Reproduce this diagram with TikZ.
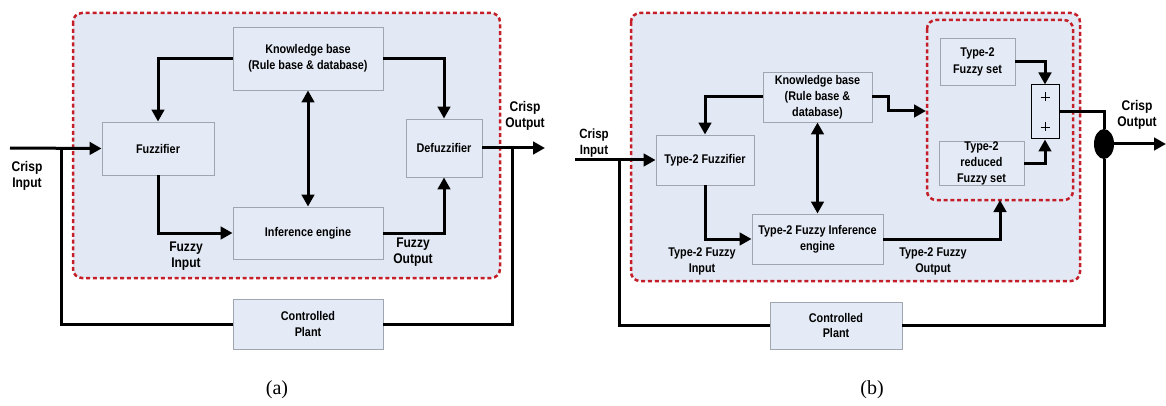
\documentclass[tikz,border=0pt]{standalone}
\usepackage{fontspec}
\setmainfont[FakeStretch=0.86]{Liberation Sans}
\newfontfamily\capfont{Liberation Serif}
\usetikzlibrary{arrows.meta,shapes.geometric}
\definecolor{regionfill}{RGB}{227,233,244}
\definecolor{boxfill}{RGB}{229,235,246}
\definecolor{boxgray}{RGB}{160,166,176}
\definecolor{dashred}{RGB}{196,30,40}
\begin{document}
\begin{tikzpicture}[x=1pt,y=-1pt,
  blk/.style={draw=boxgray, fill=boxfill, line width=0.9pt, align=center,
    font=\fontsize{12.6}{15.8}\selectfont\bfseries, inner sep=0pt},
  lbl/.style={align=center, font=\fontsize{14}{16.5}\selectfont\bfseries, inner sep=0pt},
  lblb/.style={align=center, font=\fontsize{12.6}{16}\selectfont\bfseries, inner sep=0pt},
  region/.style={draw=dashred, fill=regionfill, line width=2.5pt, dash pattern=on 4pt off 2.8pt, rounded corners=9pt},
  wire/.style={line width=3pt, black},
  arr/.style={wire, -{Triangle[length=12pt,width=12.5pt]}},
  darr/.style={wire, {Triangle[length=12pt,width=12.5pt]}-{Triangle[length=12pt,width=12.5pt]}},
  captxt/.style={font=\capfont\fontsize{20}{24}\selectfont, inner sep=0pt}
]
\useasboundingbox (0,0) rectangle (1166,406);

% ---------------- panel (a) ----------------
\draw[region] (73,13) rectangle (500,278);
\node[blk, minimum width=150pt, minimum height=63pt] (kb) at (308,58.5) {Knowledge base\\(Rule base \& database)};
\node[blk, minimum width=112pt, minimum height=53pt] (fz) at (158,148.5) {Fuzzifier};
\node[blk, minimum width=76pt, minimum height=58pt] (dfz) at (444,148) {Defuzzifier};
\node[blk, minimum width=150pt, minimum height=52pt] (inf) at (308,233) {Inference engine};
\node[blk, minimum width=150pt, minimum height=50pt] (pl) at (308,324) {Controlled\\Plant};

\coordinate (ina) at (10,148);
\coordinate (ja) at (61,148);
\coordinate (outa) at (545,148);
\coordinate (jo) at (512,148);

\draw[arr] (ina) -- (fz.west);
\draw[wire] (ja) |- (pl.west);
\draw[arr] (kb.west) -| (fz.north);
\draw[arr] (kb.east) -| (dfz.north);
\draw[darr] (kb.south) -- (inf.north);
\draw[arr] (fz.south) |- (inf.west);
\draw[arr] (inf.east) -| (dfz.south);
\draw[arr] (dfz.east) -- (outa);
\draw[wire] (jo) |- (pl.east);

\node[lbl] (ci) at (27,176) {Crisp\\Input};
\node[lbl] (co) at (525,116) {Crisp\\Output};
\node[lbl] (fi) at (186,256) {Fuzzy\\Input};
\node[lbl] (fo) at (413,252) {Fuzzy\\Output};
\node[captxt] (capa) at (277,390) {(a)};

% ---------------- panel (b) ----------------
\draw[region] (631,13) rectangle (1080,281);
\draw[region] (927,20) rectangle (1073,200);
\node[blk, minimum width=109pt, minimum height=50pt] (kb2) at (817.5,97) {Knowledge base\\(Rule base \&\\database)};
\node[blk, minimum width=98pt, minimum height=50pt] (fz2) at (705,160) {Type-2 Fuzzifier};
\node[blk, minimum width=131pt, minimum height=50pt] (inf2) at (817.5,239) {Type-2 Fuzzy Inference\\engine};
\node[blk, minimum width=132pt, minimum height=47pt] (pl2) at (836,325.5) {Controlled\\Plant};
\node[blk, minimum width=75pt, minimum height=47pt, font=\fontsize{12.6}{17}\selectfont\bfseries] (ts) at (977.5,61.5) {Type-2\\Fuzzy set};
\node[blk, minimum width=85pt, minimum height=43pt, font=\fontsize{12.6}{16}\selectfont\bfseries] (rs) at (981.5,163.5) {Type-2\\reduced\\Fuzzy set};
\node[draw=black, fill=boxfill, line width=1pt, minimum width=28pt, minimum height=54pt, inner sep=0pt] (sum) at (1045,112) {};
\draw[line width=0.8pt] (1040.5,97) -- (1049.5,97) (1045,92.5) -- (1045,101.5);
\draw[line width=0.8pt] (1040.5,127) -- (1049.5,127) (1045,122.5) -- (1045,131.5);
\node[ellipse, fill=black, minimum width=20pt, minimum height=30pt, inner sep=0pt] (dot) at (1104,144) {};

\coordinate (inb) at (575,160);
\coordinate (jb) at (619,160);
\coordinate (kbt) at (888,97);
\coordinate (inner) at (926,111);
\coordinate (innerb) at (1000,200);
\coordinate (outb) at (1166,144);

\draw[arr] (inb) -- (fz2.west);
\draw[wire] (jb) |- (pl2.west);
\draw[arr] (kb2.west) -| (fz2.north);
\draw[arr] (kb2.east) -- (kbt) |- (inner);
\draw[darr] (kb2.south) -- (inf2.north);
\draw[arr] (fz2.south) |- (inf2.west);
\draw[arr] (inf2.east) -| (innerb);
\draw[arr] (ts.east) -| (sum.north);
\draw[arr] (rs.east) -| (sum.south);
\draw[wire] (sum.east) -| (dot.north);
\draw[arr] (dot.east) -- (outb);
\draw[wire] (dot.south) |- (pl2.east);

\node[lbl, font=\fontsize{13.4}{16}\selectfont\bfseries] (ci2) at (594,143) {Crisp\\Input};
\node[lbl] (co2) at (1137,115) {Crisp\\Output};
\node[lblb] (ti) at (702,261) {Type-2 Fuzzy\\Input};
\node[lblb] (to) at (933,261) {Type-2 Fuzzy\\Output};
\node[captxt] (capb) at (872,390) {(b)};
\end{tikzpicture}
\end{document}
